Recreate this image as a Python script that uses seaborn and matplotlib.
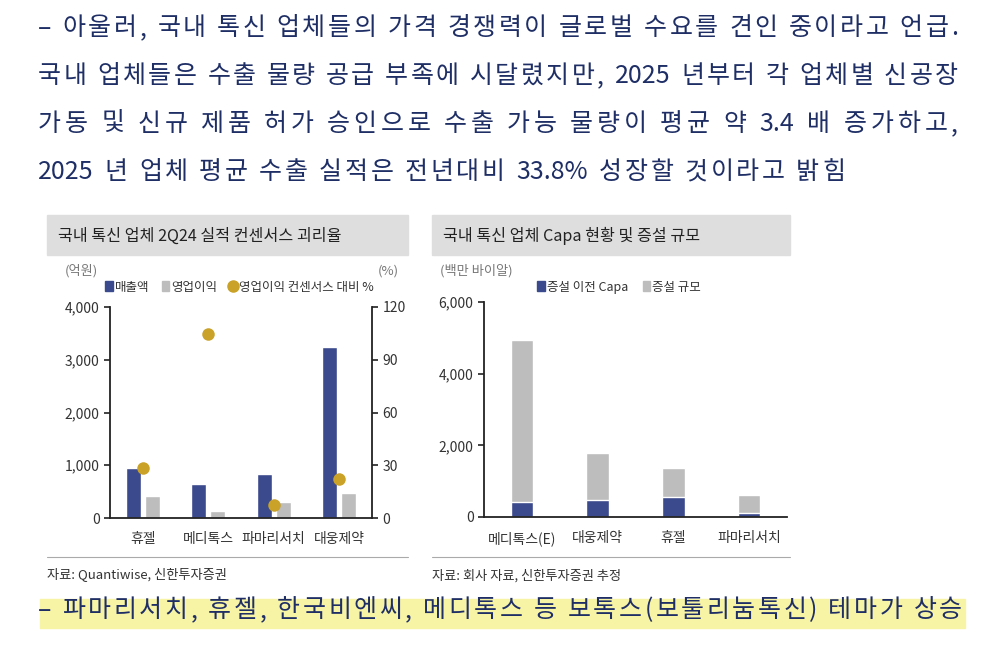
import re
import numpy as np
import pandas as pd
import matplotlib.pyplot as plt
import seaborn as sns
from matplotlib.patches import Patch, Rectangle
from matplotlib.lines import Line2D
from matplotlib.font_manager import FontProperties

# ---- data ----
body_lines = [
    "– 아울러, 국내 톡신 업체들의 가격 경쟁력이 글로벌 수요를 견인 중이라고 언급.",
    "국내 업체들은 수출 물량 공급 부족에 시달렸지만, 2025 년부터 각 업체별 신공장",
    "가동 및 신규 제품 허가 승인으로 수출 가능 물량이 평균 약 3.4 배 증가하고,",
    "2025 년 업체 평균 수출 실적은 전년대비 33.8% 성장할 것이라고 밝힘",
]
bottom_line = "– 파마리서치, 휴젤, 한국비엔씨, 메디톡스 등 보톡스(보툴리눔톡신) 테마가 상승"

left_title = "국내 톡신 업체 2Q24 실적 컨센서스 괴리율"
left_companies = ["휴젤", "메디톡스", "파마리서치", "대웅제약"]
sales = [955, 645, 832, 3245]
op_profit = [415, 133, 300, 478]
op_vs_consensus = [28.4, 104.5, 7.4, 22.2]
left_yticks = [0, 1000, 2000, 3000, 4000]
left_y2ticks = [0, 30, 60, 90, 120]
left_source = "자료: Quantiwise, 신한투자증권"

right_title = "국내 톡신 업체 Capa 현황 및 증설 규모"
right_companies = ["메디톡스(E)", "대웅제약", "휴젤", "파마리서치"]
capa_before = [425, 475, 555, 115]
capa_added = [4515, 1310, 810, 495]
right_yticks = [0, 2000, 4000, 6000]
right_source = "자료: 회사 자료, 신한투자증권 추정"

NAVY = "#3b4a8c"
GRAY = "#bdbdbd"
GOLD = "#c9a227"
TEXT = "#1f2f66"

sns.set_style("white")
plt.rcParams["font.family"] = ["Noto Sans CJK KR", "DejaVu Sans"]

W, H = 1005, 647
fig = plt.figure(figsize=(W / 100, H / 100), dpi=100)
renderer = fig.canvas.get_renderer()


def fx(px):
    return px / W


def fy(py):
    return 1 - py / H


def spread_text(line, x0, x1, y, size):
    # hangul letters get tracking, runs of latin/digits stay tight
    prop = FontProperties(family=["Noto Sans CJK KR", "DejaVu Sans"], size=size)
    tokens = re.findall(r"[0-9A-Za-z.%]+|.", line)
    widths = [renderer.get_text_width_height_descent(t, prop, ismath=False)[0]
              for t in tokens]
    extra = (x1 - x0 - sum(widths)) / (len(tokens) - 1)
    x = x0
    for t, w in zip(tokens, widths):
        if t != " ":
            fig.text(fx(x), fy(y), t, fontproperties=prop, color=TEXT,
                     va="center", ha="left", zorder=2)
        x += w + extra


# ---- paragraph text ----
ends = [958, 958, 958, 845]
for i, line in enumerate(body_lines):
    spread_text(line, 38, ends[i], 28 + 48 * i, 18)

fig.patches.append(Rectangle((fx(40), fy(628)), fx(925), (628 - 599) / H,
                             transform=fig.transFigure, color="#f8f4a6", zorder=0))
spread_text(bottom_line, 38, 962, 610, 18)


def title_box(x0, x1, text, size):
    fig.patches.append(Rectangle((fx(x0), fy(255)), fx(x1 - x0), 40 / H,
                                 transform=fig.transFigure, color="#dedede", zorder=0))
    fig.text(fx(x0 + 11), fy(236), text, fontsize=size, color="#222222",
             va="center", ha="left")
    fig.add_artist(Line2D([fx(x0), fx(x1)], [fy(557), fy(557)], color="#aaaaaa", lw=0.8))


def style_axis(ax, n):
    for s in ["top", "right"]:
        ax.spines[s].set_visible(False)
    for s in ["left", "bottom"]:
        ax.spines[s].set_color("#222222")
        ax.spines[s].set_linewidth(1.3)
    ax.set_xlim(-0.5, n - 0.5)
    ax.set_xticks(np.arange(n))
    ax.set_xticks(np.arange(n + 1) - 0.5, minor=True)
    ax.tick_params(axis="x", which="major", length=0, pad=10, labelsize=10, labelcolor="#333333")
    ax.tick_params(axis="x", which="minor", length=4, width=1.2, direction="out", color="#222222")
    ax.tick_params(axis="y", length=4, width=1.2, direction="out", color="#222222",
                   labelsize=10, labelcolor="#333333", left=True)
    ax.set_xlabel("")
    ax.set_ylabel("")


# ---- left chart ----
title_box(47, 408, left_title, 11.6)
ax1 = fig.add_axes([fx(110), fy(518), fx(262), (518 - 307) / H])
df_l = pd.DataFrame({
    "company": left_companies * 2,
    "value": sales + op_profit,
    "series": ["매출액"] * 4 + ["영업이익"] * 4,
})
sns.barplot(data=df_l, x="company", y="value", hue="series", ax=ax1,
            palette=[NAVY, GRAY], width=0.58, gap=0.2, legend=False, saturation=1)
ax1.set_ylim(0, 4000)
ax1.set_yticks(left_yticks)
ax1.set_yticklabels([f"{v:,}" for v in left_yticks])
style_axis(ax1, len(left_companies))

ax2 = ax1.twinx()
sns.stripplot(x=left_companies, y=op_vs_consensus, ax=ax2, jitter=False,
              color=GOLD, size=9, zorder=5)
ax2.set_ylim(0, 120)
ax2.set_yticks(left_y2ticks)
for s in ["top", "left", "bottom"]:
    ax2.spines[s].set_visible(False)
ax2.spines["right"].set_color("#222222")
ax2.spines["right"].set_linewidth(1.3)
ax2.tick_params(axis="y", length=4, width=1.2, direction="out", color="#222222",
                labelsize=10, labelcolor="#333333", right=True)
ax2.set_xlim(-0.5, len(left_companies) - 0.5)

fig.text(fx(65), fy(271), "(억원)", fontsize=9.5, color="#777777", va="center")
fig.text(fx(378), fy(271), "(%)", fontsize=9.5, color="#777777", va="center")
handles = [Patch(color=NAVY), Patch(color=GRAY),
           Line2D([], [], marker="o", ls="", color=GOLD, markersize=8)]
fig.legend(handles, ["매출액", "영업이익", "영업이익 컨센서스 대비 %"], ncol=3,
           loc="center left", bbox_to_anchor=(fx(94), fy(287)), frameon=False,
           fontsize=9, handlelength=0.6, handleheight=0.9, handletextpad=0.15,
           columnspacing=1.0, labelcolor="#333333")
fig.text(fx(47), fy(574), left_source, fontsize=9.5, color="#333333", va="center")

# ---- right chart ----
title_box(432, 790, right_title, 11.6)
ax3 = fig.add_axes([fx(484), fy(517), fx(303), (517 - 302) / H])
capa_total = [a + b for a, b in zip(capa_before, capa_added)]
sns.barplot(x=right_companies, y=capa_total, ax=ax3, color=GRAY, width=0.3, saturation=1)
sns.barplot(x=right_companies, y=capa_before, ax=ax3, color=NAVY, width=0.3, saturation=1)
ax3.set_ylim(0, 6000)
ax3.set_yticks(right_yticks)
ax3.set_yticklabels([f"{v:,}" for v in right_yticks])
style_axis(ax3, len(right_companies))

fig.text(fx(440), fy(271), "(백만 바이알)", fontsize=9.5, color="#777777", va="center")
handles = [Patch(color=NAVY), Patch(color=GRAY)]
fig.legend(handles, ["증설 이전 Capa", "증설 규모"], ncol=2,
           loc="center left", bbox_to_anchor=(fx(526), fy(287)), frameon=False,
           fontsize=9, handlelength=0.6, handleheight=0.9, handletextpad=0.15,
           columnspacing=1.2, labelcolor="#333333")
fig.text(fx(432), fy(576), right_source, fontsize=9.5, color="#333333", va="center")

fig.savefig("out.png", dpi=100)
